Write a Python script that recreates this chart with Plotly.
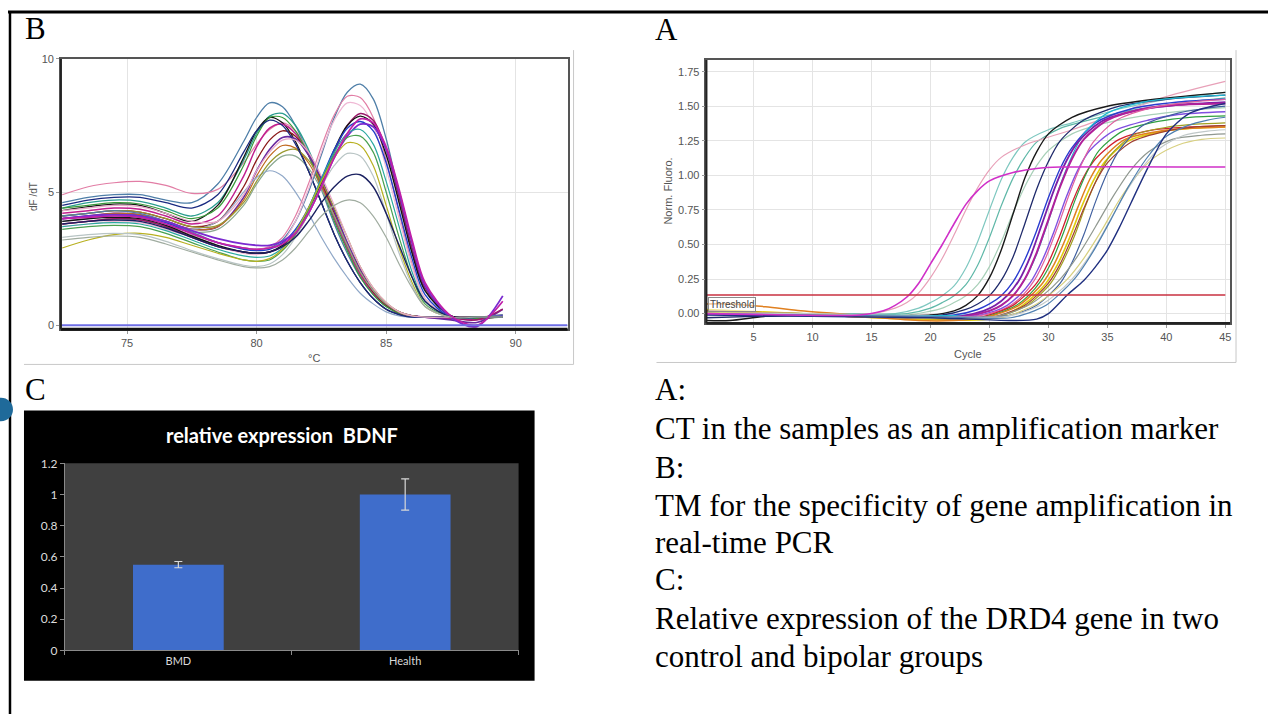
import plotly.graph_objects as go

W, H = 1269, 721

# ---------------- Panel B: melt curves (dF/dT vs °C) ----------------
melt_temp = [72.5, 73.5, 74.5, 75.5, 76.5, 77.5, 78.5, 79.5, 80.0, 80.5, 81.0, 81.5, 82.0,
             82.5, 83.0, 83.5, 84.0, 84.5, 85.0, 85.5, 86.0, 86.5, 87.5, 88.5, 89.5]

# early-melting group (peak ~80.5-81.3 °C)
melt_g1_steel = [4.6, 4.8, 4.9, 4.9, 4.7, 4.6, 5.3, 6.9, 7.8, 8.35, 8.2, 7.5, 6.4, 5.1, 3.8, 2.7, 1.8, 1.15, 0.7, 0.45, 0.35, 0.3, 0.3, 0.3, 0.35]
melt_g1_pink = [4.9, 5.2, 5.35, 5.4, 5.25, 4.95, 5.1, 6.1, 6.8, 7.35, 7.6, 7.3, 6.5, 5.4, 4.2, 3.0, 2.0, 1.25, 0.75, 0.45, 0.35, 0.3, 0.3, 0.3, 0.4]
melt_g1_teal = [4.4, 4.6, 4.7, 4.65, 4.4, 4.1, 4.6, 6.2, 7.2, 7.85, 7.95, 7.5, 6.6, 5.4, 4.1, 2.9, 1.9, 1.2, 0.75, 0.45, 0.35, 0.3, 0.3, 0.3, 0.3]
melt_g1_black = [4.3, 4.45, 4.55, 4.5, 4.2, 3.9, 4.5, 6.3, 7.3, 7.8, 7.6, 6.9, 5.8, 4.6, 3.4, 2.4, 1.6, 1.0, 0.6, 0.4, 0.3, 0.3, 0.3, 0.3, 0.3]
melt_g1_magenta = [4.2, 4.3, 4.4, 4.35, 4.1, 3.8, 4.1, 5.6, 6.7, 7.4, 7.55, 7.2, 6.4, 5.3, 4.0, 2.9, 1.9, 1.2, 0.75, 0.45, 0.35, 0.3, 0.25, 0.2, 0.35]
melt_g1_darkred = [4.1, 4.2, 4.3, 4.25, 4.0, 3.7, 3.9, 5.2, 6.2, 6.95, 7.3, 7.1, 6.4, 5.4, 4.2, 3.0, 2.0, 1.25, 0.75, 0.45, 0.35, 0.3, 0.3, 0.3, 0.3]
melt_g1_green = [4.4, 4.5, 4.6, 4.55, 4.3, 4.0, 4.4, 6.0, 7.1, 7.8, 7.8, 7.3, 6.4, 5.2, 3.9, 2.8, 1.8, 1.15, 0.7, 0.45, 0.35, 0.3, 0.3, 0.25, 0.3]
melt_g1_purple = [4.0, 4.1, 4.2, 4.15, 3.9, 3.6, 3.7, 4.8, 5.8, 6.6, 7.05, 7.0, 6.4, 5.5, 4.3, 3.1, 2.1, 1.3, 0.8, 0.5, 0.35, 0.3, 0.2, 0.1, 0.6]
melt_g1_orange = [4.0, 4.1, 4.2, 4.15, 3.9, 3.6, 3.7, 4.7, 5.6, 6.35, 6.75, 6.65, 6.1, 5.2, 4.1, 3.0, 2.0, 1.3, 0.8, 0.5, 0.35, 0.3, 0.3, 0.3, 0.3]
melt_g1_graygreen = [3.8, 3.9, 4.0, 3.95, 3.75, 3.5, 3.6, 4.5, 5.3, 5.95, 6.35, 6.35, 5.9, 5.1, 4.1, 3.0, 2.0, 1.3, 0.8, 0.5, 0.35, 0.3, 0.3, 0.3, 0.3]
melt_g1_lightblue = [3.9, 4.0, 4.1, 4.05, 3.85, 3.6, 3.9, 5.0, 5.55, 5.8, 5.6, 5.0, 4.2, 3.3, 2.5, 1.8, 1.2, 0.8, 0.5, 0.35, 0.3, 0.3, 0.3, 0.3, 0.3]
melt_g1_olive = [4.1, 4.2, 4.3, 4.25, 4.0, 3.7, 3.75, 4.6, 5.4, 6.1, 6.5, 6.6, 6.2, 5.4, 4.4, 3.3, 2.2, 1.4, 0.85, 0.5, 0.35, 0.3, 0.3, 0.3, 0.3]
melt_g1_navy = [4.5, 4.7, 4.8, 4.8, 4.6, 4.4, 4.9, 6.5, 7.3, 7.7, 7.5, 6.8, 5.8, 4.6, 3.4, 2.4, 1.6, 1.0, 0.6, 0.4, 0.3, 0.3, 0.3, 0.3, 0.3]
melt_g1_lightpink = [4.3, 4.4, 4.5, 4.45, 4.2, 3.9, 3.9, 4.9, 5.8, 6.5, 6.95, 6.95, 6.5, 5.6, 4.5, 3.3, 2.2, 1.4, 0.85, 0.5, 0.35, 0.3, 0.3, 0.3, 0.3]

# late-melting group (peak ~83.5-84.1 °C)
melt_g2_steel = [4.1, 4.2, 4.3, 4.2, 3.9, 3.5, 3.1, 2.9, 2.85, 2.9, 3.2, 3.9, 5.0, 6.4, 7.8, 8.75, 9.05, 8.5, 7.0, 4.9, 2.8, 1.3, 0.35, 0.3, 0.4]
melt_g2_pink = [3.8, 3.9, 4.0, 3.95, 3.7, 3.4, 3.1, 2.9, 2.85, 2.95, 3.3, 4.1, 5.3, 6.7, 7.9, 8.6, 8.55, 7.8, 6.2, 4.2, 2.3, 1.0, 0.3, 0.3, 0.35]
melt_g2_lightpink = [3.7, 3.8, 3.9, 3.85, 3.6, 3.3, 2.95, 2.7, 2.65, 2.75, 3.1, 3.9, 5.1, 6.5, 7.7, 8.35, 8.25, 7.5, 5.9, 4.0, 2.2, 1.0, 0.3, 0.3, 0.3]
melt_g2_darkmagenta = [3.8, 3.9, 4.0, 3.95, 3.7, 3.3, 2.95, 2.75, 2.7, 2.75, 2.95, 3.4, 4.2, 5.3, 6.5, 7.5, 7.95, 7.7, 6.6, 4.8, 2.9, 1.4, 0.35, 0.2, 0.6]
melt_g2_black = [3.9, 4.0, 4.05, 4.0, 3.75, 3.35, 3.0, 2.75, 2.7, 2.75, 3.0, 3.5, 4.3, 5.4, 6.6, 7.5, 7.85, 7.55, 6.4, 4.6, 2.7, 1.3, 0.35, 0.3, 0.3]
melt_g2_blue = [4.0, 4.1, 4.15, 4.1, 3.85, 3.45, 3.1, 2.85, 2.8, 2.85, 3.1, 3.6, 4.4, 5.5, 6.6, 7.4, 7.65, 7.3, 6.1, 4.3, 2.5, 1.15, 0.3, 0.3, 0.35]
melt_g2_purple = [4.0, 4.1, 4.15, 4.1, 3.9, 3.55, 3.25, 3.05, 3.0, 3.0, 3.15, 3.5, 4.2, 5.2, 6.3, 7.1, 7.55, 7.45, 6.6, 5.0, 3.1, 1.5, 0.3, -0.05, 1.1]
melt_g2_teal = [3.7, 3.8, 3.85, 3.8, 3.55, 3.2, 2.85, 2.6, 2.55, 2.6, 2.9, 3.5, 4.4, 5.5, 6.5, 7.2, 7.35, 6.8, 5.4, 3.7, 2.0, 0.9, 0.3, 0.3, 0.3]
melt_g2_green = [3.6, 3.7, 3.75, 3.7, 3.45, 3.1, 2.75, 2.45, 2.4, 2.45, 2.8, 3.4, 4.3, 5.4, 6.4, 7.05, 7.1, 6.5, 5.0, 3.3, 1.8, 0.8, 0.3, 0.3, 0.3]
melt_g2_olive = [2.9, 3.2, 3.4, 3.45, 3.3, 3.0, 2.7, 2.45, 2.4, 2.5, 2.85, 3.5, 4.4, 5.4, 6.3, 6.85, 6.75, 6.0, 4.5, 2.9, 1.6, 0.7, 0.3, 0.3, 0.3]
melt_g2_lightgray = [3.3, 3.4, 3.45, 3.4, 3.15, 2.8, 2.5, 2.25, 2.2, 2.3, 2.65, 3.3, 4.2, 5.2, 6.0, 6.45, 6.35, 5.6, 4.2, 2.7, 1.5, 0.7, 0.3, 0.3, 0.3]
melt_g2_navy = [3.8, 3.9, 3.95, 3.9, 3.65, 3.3, 2.95, 2.75, 2.7, 2.75, 2.95, 3.3, 3.9, 4.6, 5.2, 5.6, 5.65, 5.2, 4.2, 3.0, 1.8, 0.9, 0.3, 0.3, 0.3]
melt_g2_gray = [3.2, 3.3, 3.35, 3.3, 3.05, 2.75, 2.45, 2.2, 2.15, 2.2, 2.45, 2.9, 3.5, 4.1, 4.5, 4.7, 4.6, 4.1, 3.3, 2.3, 1.4, 0.7, 0.3, 0.3, 0.3]
melt_g2_magenta = [4.0, 4.05, 4.1, 4.05, 3.8, 3.45, 3.1, 2.9, 2.85, 2.9, 3.05, 3.45, 4.2, 5.2, 6.3, 7.2, 7.75, 7.6, 6.7, 5.1, 3.2, 1.6, 0.35, 0.0, 0.9]

melt_baseline_temp = [72.45, 92.0]
melt_baseline_val = [0.0, 0.0]

# ---------------- Panel A: amplification curves ----------------
amp_magenta_c = [1, 8, 14, 16, 17, 18, 19, 20, 21, 22, 23, 24, 25, 27, 29, 31, 45]
amp_magenta_v = [0.0, -0.01, -0.01, 0.02, 0.06, 0.12, 0.22, 0.36, 0.5, 0.65, 0.79, 0.89, 0.96, 1.02, 1.05, 1.06, 1.06]
amp_rose_c = [1, 10, 15, 17, 18, 19, 20, 21, 22, 23, 24, 25, 26, 28, 32, 36, 40, 45]
amp_rose_v = [0.0, -0.01, 0.0, 0.04, 0.08, 0.15, 0.26, 0.4, 0.57, 0.75, 0.91, 1.04, 1.13, 1.22, 1.33, 1.45, 1.57, 1.68]
amp_teal1_c = [1, 10, 17, 19, 20, 21, 22, 23, 24, 25, 26, 27, 28, 30, 32, 36, 40, 45]
amp_teal1_v = [0.01, 0.0, 0.0, 0.04, 0.08, 0.13, 0.2, 0.33, 0.52, 0.75, 0.97, 1.13, 1.24, 1.33, 1.38, 1.48, 1.55, 1.6]
amp_teal2_c = [1, 12, 18, 20, 21, 22, 23, 24, 25, 26, 27, 28, 29, 31, 33, 37, 41, 45]
amp_teal2_v = [0.0, 0.0, 0.0, 0.04, 0.08, 0.13, 0.21, 0.35, 0.55, 0.78, 0.98, 1.13, 1.24, 1.34, 1.39, 1.47, 1.52, 1.56]
amp_sage_c = [1, 12, 18, 21, 22, 23, 24, 25, 26, 27, 28, 29, 30, 32, 34, 38, 42, 45]
amp_sage_v = [0.0, 0.0, -0.01, 0.04, 0.08, 0.13, 0.21, 0.34, 0.52, 0.73, 0.92, 1.07, 1.18, 1.3, 1.36, 1.43, 1.47, 1.49]
amp_black_c = [1, 3, 6, 10, 20, 22, 23, 24, 25, 26, 27, 28, 29, 30, 32, 35, 39, 45]
amp_black_v = [-0.05, -0.05, -0.02, -0.01, -0.01, 0.02, 0.06, 0.13, 0.26, 0.46, 0.72, 0.98, 1.17, 1.3, 1.42, 1.5, 1.55, 1.6]
amp_navy1_c = [1, 5, 10, 21, 23, 24, 25, 26, 27, 28, 29, 30, 31, 33, 36, 40, 45]
amp_navy1_v = [-0.03, -0.02, -0.01, -0.01, 0.03, 0.07, 0.13, 0.24, 0.41, 0.65, 0.9, 1.1, 1.25, 1.4, 1.5, 1.55, 1.58]
amp_blue_c = [1, 6, 12, 22, 24, 25, 26, 27, 28, 29, 30, 31, 32, 34, 37, 41, 45]
amp_blue_v = [0.0, -0.01, -0.01, -0.01, 0.03, 0.07, 0.13, 0.23, 0.39, 0.6, 0.84, 1.05, 1.2, 1.38, 1.48, 1.53, 1.55]
amp_purple_c = [1, 8, 14, 22.5, 24.5, 25.5, 26.5, 27.5, 28.5, 29.5, 30.5, 31.5, 32.5, 34.5, 37.5, 41, 45]
amp_purple_v = [0.0, -0.01, -0.02, -0.02, 0.02, 0.06, 0.13, 0.24, 0.42, 0.66, 0.9, 1.1, 1.24, 1.39, 1.47, 1.51, 1.53]
amp_plum_c = [1, 8, 15, 23, 25, 26, 27, 28, 29, 30, 31, 32, 33, 35, 38, 41, 45]
amp_plum_v = [0.0, -0.01, -0.02, -0.02, 0.02, 0.06, 0.13, 0.25, 0.44, 0.68, 0.92, 1.12, 1.26, 1.4, 1.48, 1.51, 1.52]
amp_violet_c = [1, 8, 16, 23.5, 25.5, 26.5, 27.5, 28.5, 29.5, 30.5, 31.5, 32.5, 33.5, 35.5, 38.5, 41, 45]
amp_violet_v = [0.0, 0.0, -0.02, -0.02, 0.02, 0.06, 0.13, 0.23, 0.39, 0.6, 0.84, 1.04, 1.18, 1.32, 1.4, 1.44, 1.46]
amp_red_c = [1, 8, 16, 24, 26, 27, 28, 29, 30, 31, 32, 33, 34, 36, 39, 42, 45]
amp_red_v = [0.01, 0.0, -0.03, -0.03, 0.02, 0.06, 0.13, 0.22, 0.37, 0.57, 0.8, 0.99, 1.12, 1.26, 1.33, 1.35, 1.36]
amp_green_c = [1, 9, 17, 24.3, 26.3, 27.3, 28.3, 29.3, 30.3, 31.3, 32.3, 33.3, 34.3, 36.3, 39.3, 42, 45]
amp_green_v = [0.01, 0.0, -0.02, -0.03, 0.02, 0.06, 0.13, 0.23, 0.38, 0.59, 0.83, 1.03, 1.18, 1.32, 1.39, 1.42, 1.43]
amp_yellow_c = [1, 9, 18, 24.8, 26.8, 27.8, 28.8, 29.8, 30.8, 31.8, 32.8, 33.8, 34.8, 36.8, 39.8, 42, 45]
amp_yellow_v = [0.03, 0.0, -0.04, -0.04, 0.01, 0.06, 0.13, 0.22, 0.36, 0.55, 0.77, 0.96, 1.1, 1.25, 1.32, 1.34, 1.35]
amp_olive_c = [1, 9, 18, 25.2, 27.2, 28.2, 29.2, 30.2, 31.2, 32.2, 33.2, 34.2, 35.2, 37.2, 40.2, 42.5, 45]
amp_olive_v = [0.02, 0.0, -0.03, -0.03, 0.02, 0.06, 0.13, 0.22, 0.37, 0.56, 0.79, 0.99, 1.14, 1.29, 1.35, 1.37, 1.38]
amp_orange_c = [1, 3, 6, 9, 12, 19, 22, 24.5, 26.5, 27.5, 28.5, 29.5, 30.5, 31.5, 32.5, 33.5, 34.5, 36.5, 39.5, 42, 45]
amp_orange_v = [0.07, 0.07, 0.05, 0.02, 0.0, -0.05, -0.05, -0.03, 0.02, 0.06, 0.13, 0.22, 0.36, 0.55, 0.77, 0.97, 1.11, 1.26, 1.32, 1.34, 1.35]
amp_cyan_c = [1, 8, 15, 23, 25, 26, 27, 28, 29, 30, 31, 32, 33, 35, 38, 41, 45]
amp_cyan_v = [0.0, 0.0, -0.01, -0.01, 0.02, 0.06, 0.13, 0.25, 0.43, 0.67, 0.93, 1.14, 1.3, 1.45, 1.53, 1.56, 1.58]
amp_slate_c = [1, 10, 18, 26, 28, 29, 30, 31, 32, 33, 34, 35, 36, 38, 41, 43, 45]
amp_slate_v = [0.0, -0.01, -0.02, -0.02, 0.02, 0.06, 0.13, 0.22, 0.37, 0.57, 0.81, 1.02, 1.18, 1.36, 1.45, 1.48, 1.5]
amp_brown_c = [1, 9, 17, 25, 27, 28, 29, 30, 31, 32, 33, 34, 35, 37, 40, 42.5, 45]
amp_brown_v = [0.02, 0.0, -0.03, -0.03, 0.02, 0.06, 0.13, 0.22, 0.36, 0.55, 0.76, 0.95, 1.09, 1.24, 1.32, 1.35, 1.36]
amp_pink_c = [1, 8, 16, 23.8, 25.8, 26.8, 27.8, 28.8, 29.8, 30.8, 31.8, 32.8, 33.8, 35.8, 38.8, 42, 45]
amp_pink_v = [0.0, -0.01, -0.02, -0.02, 0.02, 0.06, 0.13, 0.24, 0.41, 0.63, 0.87, 1.08, 1.24, 1.4, 1.49, 1.53, 1.55]
amp_gray_c = [1, 10, 18, 25.5, 27.5, 28.5, 29.5, 31, 32.5, 34, 35.5, 37, 38.5, 40.5, 43, 45]
amp_gray_v = [0.0, -0.01, -0.03, -0.02, 0.03, 0.07, 0.13, 0.25, 0.42, 0.63, 0.85, 1.04, 1.17, 1.26, 1.29, 1.3]
amp_paleyellow_c = [1, 10, 18, 26, 28, 29, 30, 31.5, 33, 34.5, 36, 37.5, 39, 41, 43, 45]
amp_paleyellow_v = [0.01, 0.0, -0.03, -0.03, 0.03, 0.07, 0.13, 0.24, 0.4, 0.6, 0.82, 1.0, 1.13, 1.22, 1.26, 1.27]
amp_lightgray_c = [1, 10, 20, 26.5, 28.5, 29.5, 30.5, 32, 33.5, 35, 36.5, 38, 39.5, 41.5, 43.5, 45]
amp_lightgray_v = [0.0, 0.0, -0.02, -0.02, 0.03, 0.07, 0.13, 0.25, 0.42, 0.64, 0.87, 1.06, 1.2, 1.29, 1.32, 1.33]
amp_steel_c = [1, 10, 20, 26.8, 28.8, 29.8, 30.8, 32.3, 33.8, 35.3, 36.8, 38.3, 39.8, 41.8, 43.5, 45]
amp_steel_v = [0.0, -0.01, -0.02, -0.03, 0.02, 0.06, 0.13, 0.26, 0.45, 0.68, 0.92, 1.12, 1.27, 1.36, 1.4, 1.42]
amp_navy2_c = [1, 10, 20, 27, 29, 30, 31.6, 33, 34, 35, 36, 37, 38, 39, 40, 42, 45]
amp_navy2_v = [-0.01, -0.02, -0.03, -0.05, -0.04, 0.0, 0.135, 0.24, 0.34, 0.46, 0.62, 0.8, 0.98, 1.15, 1.3, 1.45, 1.52]

threshold_cycles = [1, 45]
threshold_value = [0.135, 0.135]

# ---------------- Panel C: relative expression ----------------
groups = ["BMD", "Health"]
rel_expression = [0.55, 1.0]
rel_error = [0.02, 0.1]

# ---------------- helpers (pixel -> paper) ----------------
def px(x):
    return x / W

def py(y):
    return 1 - y / H

fig = go.Figure()

melt_series = [
    (melt_g1_steel, "#4f7fa8", 1.3), (melt_g1_pink, "#e27da5", 1.2), (melt_g1_teal, "#2a9d8f", 1.3),
    (melt_g1_black, "#151515", 1.3), (melt_g1_magenta, "#c0208f", 1.5), (melt_g1_darkred, "#8b1a1a", 1.3),
    (melt_g1_green, "#3a9a3a", 1.2), (melt_g1_purple, "#6a2aa0", 1.6), (melt_g1_orange, "#c06a20", 1.2),
    (melt_g1_graygreen, "#8aa890", 1.2), (melt_g1_lightblue, "#90a8c8", 1.2), (melt_g1_olive, "#9a9a30", 1.2),
    (melt_g1_navy, "#1a2a80", 1.3), (melt_g1_lightpink, "#e8a8c8", 1.2),
    (melt_g2_steel, "#4f7fa8", 1.3), (melt_g2_pink, "#e27da5", 1.2), (melt_g2_lightpink, "#efb8d4", 1.2),
    (melt_g2_darkmagenta, "#9a1a6a", 1.5), (melt_g2_black, "#151515", 1.4), (melt_g2_blue, "#2040c8", 1.4),
    (melt_g2_purple, "#7a2ad0", 1.8), (melt_g2_teal, "#2aa8a0", 1.2), (melt_g2_green, "#4aa050", 1.2),
    (melt_g2_olive, "#b8b020", 1.2), (melt_g2_lightgray, "#b8c4c4", 1.2), (melt_g2_navy, "#1a2060", 1.4),
    (melt_g2_gray, "#a0aca0", 1.2), (melt_g2_magenta, "#c020a8", 1.7),
]
for ys, col, lw in melt_series:
    fig.add_trace(go.Scatter(x=melt_temp, y=ys, mode="lines", xaxis="x", yaxis="y",
                             line=dict(color=col, width=lw, shape="spline", smoothing=0.9),
                             hoverinfo="skip", showlegend=False))
fig.add_trace(go.Scatter(x=melt_baseline_temp, y=melt_baseline_val, mode="lines", xaxis="x", yaxis="y",
                         line=dict(color="#6f6fe6", width=2), hoverinfo="skip", showlegend=False))

amp_series = [
    (amp_sage_c, amp_sage_v, "#a8d0b8", 1.2), (amp_teal1_c, amp_teal1_v, "#7fc8c0", 1.2),
    (amp_teal2_c, amp_teal2_v, "#5fb8a8", 1.2), (amp_rose_c, amp_rose_v, "#e8a0b8", 1.2),
    (amp_black_c, amp_black_v, "#1a1a1a", 1.4), (amp_navy1_c, amp_navy1_v, "#1f2a6b", 1.3),
    (amp_blue_c, amp_blue_v, "#2a3cd0", 1.4), (amp_cyan_c, amp_cyan_v, "#20b8d0", 1.2),
    (amp_purple_c, amp_purple_v, "#7a1fa8", 1.8), (amp_plum_c, amp_plum_v, "#b0209a", 2.0),
    (amp_violet_c, amp_violet_v, "#8050e0", 1.4), (amp_pink_c, amp_pink_v, "#e060a0", 1.2),
    (amp_red_c, amp_red_v, "#d02030", 1.3), (amp_green_c, amp_green_v, "#30a040", 1.2),
    (amp_yellow_c, amp_yellow_v, "#e0cc10", 1.6), (amp_olive_c, amp_olive_v, "#a0a020", 1.2),
    (amp_orange_c, amp_orange_v, "#e08020", 1.5), (amp_brown_c, amp_brown_v, "#a04030", 1.2),
    (amp_slate_c, amp_slate_v, "#4060a0", 1.2), (amp_gray_c, amp_gray_v, "#909890", 1.2),
    (amp_paleyellow_c, amp_paleyellow_v, "#d8d080", 1.2), (amp_lightgray_c, amp_lightgray_v, "#c0c8c8", 1.2),
    (amp_steel_c, amp_steel_v, "#5080b0", 1.2), (amp_navy2_c, amp_navy2_v, "#203080", 1.4),
    (amp_magenta_c, amp_magenta_v, "#d030c8", 1.6),
]
for xs, ys, col, lw in amp_series:
    fig.add_trace(go.Scatter(x=xs, y=ys, mode="lines", xaxis="x2", yaxis="y2",
                             line=dict(color=col, width=lw, shape="spline", smoothing=0.8),
                             hoverinfo="skip", showlegend=False))
fig.add_trace(go.Scatter(x=threshold_cycles, y=threshold_value, mode="lines", xaxis="x2", yaxis="y2",
                         line=dict(color="#c83040", width=1.6), hoverinfo="skip", showlegend=False))

fig.add_trace(go.Bar(x=groups, y=rel_expression, xaxis="x3", yaxis="y3", width=0.4,
                     marker=dict(color="#3f6dcb", line=dict(width=0)),
                     error_y=dict(type="data", array=rel_error, color="#d8d8d8", thickness=1.2, width=4),
                     hoverinfo="skip", showlegend=False))

tick_font = dict(family="Liberation Sans, Arial", size=11, color="#555555")
grid_col = "#e4e4e4"

layout_axes = dict(
    xaxis=dict(domain=[px(61), px(568)], anchor="y", range=[72.45, 92.0],
               tickvals=[75, 80, 85, 90], showgrid=True, gridcolor=grid_col, zeroline=False,
               showline=True, linecolor="#555555", linewidth=1.5, mirror=True,
               ticks="outside", ticklen=3, tickcolor="#999", tickfont=tick_font),
    yaxis=dict(domain=[py(328), py(52)], anchor="x", range=[-0.15, 10.0],
               tickvals=[0, 5, 10], showgrid=True, gridcolor=grid_col, zeroline=False,
               showline=True, linecolor="#555555", linewidth=1.5, mirror=True,
               ticks="outside", ticklen=3, tickcolor="#999", tickfont=tick_font),
    xaxis2=dict(domain=[px(707), px(1231)], anchor="y2", range=[1.0, 45.4],
                tickvals=[5, 10, 15, 20, 25, 30, 35, 40, 45], showgrid=True, gridcolor=grid_col,
                zeroline=False, showline=True, linecolor="#555555", linewidth=1.5, mirror=True,
                ticks="outside", ticklen=3, tickcolor="#999", tickfont=tick_font),
    yaxis2=dict(domain=[py(322), py(53)], anchor="x2", range=[-0.07, 1.835],
                tickvals=[0, 0.25, 0.5, 0.75, 1.0, 1.25, 1.5, 1.75], tickformat=".2f",
                showgrid=True, gridcolor=grid_col, zeroline=False, showline=True,
                linecolor="#555555", linewidth=1.5, mirror=True,
                ticks="outside", ticklen=3, tickcolor="#999", tickfont=tick_font),
    xaxis3=dict(domain=[px(65), px(519)], anchor="y3", range=[-0.5, 1.5], type="category",
                showgrid=False, zeroline=False, showline=True, linecolor="#8a8a8a", linewidth=1,
                ticks="outside", tickson="boundaries", ticklen=4, tickcolor="#8a8a8a",
                tickfont=dict(family="Lato", size=11, color="#d9d9d9")),
    yaxis3=dict(domain=[py(656), py(465)], anchor="x3", range=[0, 1.2],
                tickvals=[0, 0.2, 0.4, 0.6, 0.8, 1.0, 1.2],
                ticktext=["0", "0.2", "0.4", "0.6", "0.8", "1", "1.2"],
                showgrid=False, zeroline=False, showline=True, linecolor="#8a8a8a", linewidth=1,
                ticks="outside", ticklen=4, tickcolor="#8a8a8a",
                tickfont=dict(family="Lato", size=12, color="#dcdcdc")),
)

def hline(x0, x1, y, col, w):
    return dict(type="line", xref="paper", yref="paper", x0=px(x0), x1=px(x1), y0=py(y), y1=py(y),
                line=dict(color=col, width=w))

def vline(x, y0, y1, col, w):
    return dict(type="line", xref="paper", yref="paper", x0=px(x), x1=px(x), y0=py(y0), y1=py(y1),
                line=dict(color=col, width=w))

shapes = [
    # page frame
    hline(8, W, 4, "black", 3),
    vline(10, 3, H, "black", 2.5),
    # blue bullet at the left edge
    dict(type="circle", xref="paper", yref="paper", x0=px(-11), x1=px(13), y0=py(422), y1=py(398),
         fillcolor="#1f6a9a", line=dict(width=0)),
    # light frames around the two instrument screenshots
    vline(574, 43, 364, "#c8c8c8", 1),
    hline(24, 574, 364, "#c8c8c8", 1),
    vline(1237, 43, 362, "#c8c8c8", 1),
    hline(657, 1237, 362, "#c8c8c8", 1),
    # heavier bottom / left plot edges
    hline(61, 568, 328, "#111111", 3),
    vline(61, 52, 328, "#222222", 2),
    hline(707, 1231, 322, "#222222", 2.5),
    vline(707, 53, 322, "#222222", 2),
    # panel C background
    dict(type="rect", xref="paper", yref="paper", x0=px(24), x1=px(535), y0=py(687), y1=py(411),
         fillcolor="black", line=dict(width=0), layer="below"),
    dict(type="rect", xref="paper", yref="paper", x0=px(65), x1=px(519), y0=py(656), y1=py(465),
         fillcolor="#404040", line=dict(width=0), layer="below"),
]

serif = dict(family="Liberation Serif, Times New Roman, serif", size=31, color="black")
annotations = []

def txt(x, y, s, font, **kw):
    d = dict(xref="paper", yref="paper", x=px(x), y=py(y), text=s, showarrow=False,
             xanchor="left", yanchor="middle", font=font)
    d.update(kw)
    annotations.append(d)

txt(23, 21, "B", serif)
txt(654, 22, "A", serif)
txt(23, 390, "C", serif)
txt(654, 390, "A:", serif)
txt(654, 429, "CT in the samples as an amplification marker", serif)
txt(654, 469, "B:", serif)
txt(654, 508, "TM for the specificity of gene amplification in", serif)
txt(654, 546, "real-time PCR", serif)
txt(654, 584, "C:", serif)
txt(654, 623, "Relative expression of the DRD4 gene in two", serif)
txt(654, 662, "control and bipolar groups", serif)

small = dict(family="Liberation Sans, Arial", size=11, color="#555555")
txt(314, 357, "°C", small, xanchor="center")
txt(33, 192, "dF /dT", dict(family="Liberation Sans, Arial", size=10, color="#555555"),
    xanchor="center", textangle=-90)
txt(969, 353, "Cycle", small, xanchor="center")
txt(669, 187, "Norm. Fluoro.", small, xanchor="center", textangle=-90)
txt(282, 436, "<b>relative expression  BDNF</b>", dict(family="Lato", size=20, color="white"),
    xanchor="center")

annotations.append(dict(xref="x2", yref="y2", x=1.15, y=0.065, text="Threshold", showarrow=False,
                        xanchor="left", yanchor="middle",
                        font=dict(family="Liberation Sans, Arial", size=10, color="#444"),
                        bordercolor="#8a8a8a", borderwidth=1, borderpad=1,
                        bgcolor="rgba(255,255,255,0.55)"))

fig.update_layout(width=W, height=H, margin=dict(l=0, r=0, t=0, b=0),
                  paper_bgcolor="white", plot_bgcolor="rgba(0,0,0,0)",
                  shapes=shapes, annotations=annotations, showlegend=False, **layout_axes)

fig.write_html("out.html", config={"displayModeBar": False},
               post_script="document.body.style.margin='0px';")
